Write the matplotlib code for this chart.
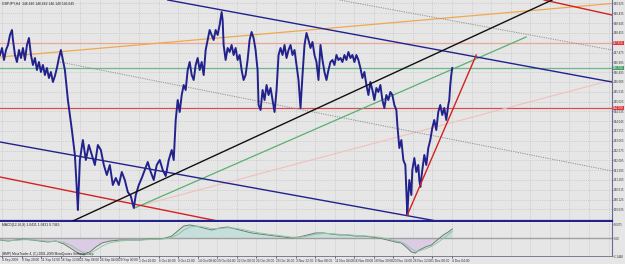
import numpy as np
import matplotlib
matplotlib.use("Agg")
import matplotlib.pyplot as plt
import matplotlib.transforms as mtransforms
import logging
logging.getLogger("matplotlib.font_manager").setLevel(logging.ERROR)

# ---------------- data ----------------
bar_pos = [0, 2, 4, 6, 8, 10, 12, 13, 15, 17, 19, 21, 23, 25, 27, 29, 31, 33, 35, 37, 39, 41, 43, 45, 47, 49, 51, 53, 55, 57, 59, 61, 63, 65,
           68, 70, 72, 75, 77, 78, 79, 80, 83, 86, 89, 92, 95, 98, 101, 104, 107, 110, 113, 116, 119, 122, 125, 128, 131, 134, 136, 139,
           142, 145, 148, 151, 154, 157, 160, 163, 166, 169, 172, 174, 176, 178, 180, 182, 184, 186, 188, 190, 192, 194, 196, 198, 200,
           202, 204, 206, 208, 210, 212, 214, 216, 218, 220, 222, 223, 224, 226, 228, 230, 232, 234, 236, 238, 240, 242, 244, 246, 248,
           250, 252, 254, 256, 258, 259, 261, 263, 265, 267, 269, 271, 273, 275, 277, 279, 281, 283, 285, 287, 289, 291, 293, 295, 297,
           299, 301, 303, 305, 307, 309, 311, 313, 315, 317, 319, 321, 323, 325, 327, 329, 331, 333, 335, 337, 339, 341, 343, 345, 347,
           349, 351, 353, 355, 357, 359, 361, 363, 365, 367, 369, 371, 373, 375, 377, 379, 381, 383, 385, 387, 389, 391, 393, 395, 397,
           398, 400, 402, 404, 406, 407, 408, 409, 410, 412, 413, 415, 417, 419, 420, 421, 423, 425, 427, 429, 431, 433, 435, 437, 439,
           441, 443, 445, 447, 449, 450, 451, 452, 453]
price = [147.35, 147.70, 147.10, 147.60, 147.85, 148.35, 148.60, 148.10, 147.35, 147.00, 147.60, 147.20, 147.70, 147.10, 147.85,
         148.20, 147.35, 146.85, 147.20, 146.60, 147.00, 146.50, 146.85, 146.35, 146.70, 146.20, 146.50, 146.00, 146.30, 146.70,
         147.20, 147.60, 147.10, 146.60,
         145.10, 144.35, 143.60, 142.35, 140.60, 139.60, 140.85, 142.10, 143.10, 142.10, 142.85, 142.35, 141.85, 142.85, 142.60,
         141.85, 141.35, 141.85, 140.85, 141.20, 140.85, 141.50, 141.10, 140.50, 140.30, 139.70, 140.35, 140.85,
         141.20, 141.60, 142.00, 141.50, 141.10, 141.85, 142.10, 141.60, 141.30, 142.10, 142.60, 142.10, 144.10, 145.10, 144.50,
         145.35, 145.85, 145.60, 146.60, 147.00, 146.35, 146.10, 146.85, 147.20, 146.60,
         147.00, 146.35, 147.60, 148.10, 148.60, 148.35, 148.10, 148.60, 148.35, 148.85, 149.50, 149.10, 147.85, 147.10, 147.70,
         147.50, 147.85, 147.35, 147.70, 147.10, 147.35, 146.60, 146.10, 146.35, 147.10,
         148.10, 148.50, 148.20, 147.60, 146.60, 144.85, 144.60, 145.60, 145.10, 145.85, 145.35, 145.70, 145.10, 144.50, 145.60,
         147.35, 147.70, 147.35, 147.85, 147.20, 147.60, 147.85, 147.35, 147.60, 146.85,
         146.10, 144.70, 146.35, 147.85, 148.45, 148.10, 147.70, 148.00, 147.35, 147.00, 146.10, 147.85, 147.10, 146.50, 146.10,
         146.60, 147.00, 147.10, 146.85, 147.35, 147.10, 147.20, 147.00, 147.35, 147.10,
         147.50, 147.20, 147.35, 147.00, 147.35, 147.10, 146.70, 146.20, 146.50, 145.85, 145.35, 146.00, 145.60, 145.10, 145.70,
         145.50, 145.85, 145.10, 144.70, 145.35, 145.10, 145.50, 145.35, 144.85, 144.60,
         143.85, 142.70, 143.10, 142.10, 141.85, 140.60, 139.35, 140.35, 141.10, 140.35, 141.60, 142.20, 141.50, 141.85, 141.10,
         140.75, 141.60, 142.35, 141.85, 142.70, 143.10, 143.70, 144.10, 143.60, 144.50,
         144.85, 144.35, 144.70, 144.10, 144.85, 145.10, 145.85, 146.35, 146.70]

# trend lines: (x0, p0, x1, p1)
line_upper_navy = (168, 150.10, 613, 146.00)
line_lower_navy = (0, 143.00, 435, 139.07)
line_red_low = (0, 141.25, 218, 139.05)
line_red_high = (545, 150.10, 613, 149.35)
line_red_steep = (408, 139.35, 477, 147.35)
line_green_diag = (135, 139.70, 527, 148.25)
line_black = (73, 139.05, 553, 150.10)
line_orange = (0, 147.25, 613, 149.925)
line_dot_top = (340, 150.10, 613, 147.60)
line_dot_mid = (60, 147.00, 613, 141.55)
line_pink = (135, 139.75, 613, 146.10)

hline_salmon = 147.95
hline_green = 146.70
hline_red = 144.70

price_ticks = [149.925, 149.435, 148.945, 148.455, 147.965, 147.475, 146.985, 146.495, 146.005, 145.515, 145.025,
               144.535, 144.045, 143.555, 143.065, 142.575, 142.085, 141.595, 141.105, 140.615, 140.125, 139.635]

time_pos = [2 + 19.6 * i for i in range(24)]
time_labels = ["4 Sep 2009", "8 Sep 20:00", "11 Sep 16:00", "16 Sep 12:00", "21 Sep 08:00", "24 Sep 04:00",
               "29 Sep 00:00", "1 Oct 20:00", "6 Oct 16:00", "9 Oct 12:00", "14 Oct 08:00", "19 Oct 04:00",
               "22 Oct 00:00", "26 Oct 20:00", "29 Oct 16:00", "3 Nov 12:00", "6 Nov 08:00", "11 Nov 04:00",
               "16 Nov 00:00", "18 Nov 20:00", "23 Nov 16:00", "26 Nov 12:00", "1 Dec 08:00", "4 Dec 04:00"]

macd_pos = [0, 8, 16, 24, 32, 40, 48, 56, 64, 72, 78, 84, 90, 96, 102, 110, 120, 130, 140, 150, 160, 166, 172, 178, 184,
            190, 196, 204, 212, 220, 228, 236, 244, 252, 260, 268, 276, 284, 292, 300, 308, 316, 324, 332, 340, 348, 356,
            364, 372, 380, 388, 396, 402, 408, 412, 416, 420, 426, 432, 438, 444, 449, 453]
macd_main = [-0.23, -0.35, -0.23, -0.12, -0.23, -0.35, -0.46, -0.35, -0.69, -1.27, -1.73, -1.96, -1.61, -1.04, -0.58,
             -0.35, -0.23, -0.23, -0.23, -0.12, -0.12, 0.00, 0.23, 0.81, 1.38, 1.50, 1.38, 1.15, 0.92, 1.15, 1.27, 1.04,
             0.81, 0.58, 0.46, 0.35, 0.23, 0.12, 0.00, 0.12, 0.35, 0.58, 0.58, 0.46, 0.35, 0.35, 0.23, 0.23, 0.12, 0.00,
             -0.23, -0.46, -0.58, -1.15, -1.61, -1.73, -1.38, -1.04, -0.81, -0.23, 0.35, 0.69, 1.04]
macd_signal = [-0.20, -0.28, -0.28, -0.20, -0.20, -0.28, -0.38, -0.38, -0.50, -0.90, -1.35, -1.70, -1.75, -1.40, -0.95,
               -0.55, -0.35, -0.25, -0.23, -0.18, -0.14, -0.08, 0.05, 0.40, 0.90, 1.25, 1.38, 1.28, 1.08, 1.08, 1.18, 1.12,
               0.95, 0.75, 0.58, 0.45, 0.33, 0.22, 0.10, 0.08, 0.22, 0.42, 0.52, 0.50, 0.42, 0.38, 0.30, 0.26, 0.18, 0.08,
               -0.10, -0.32, -0.48, -0.85, -1.25, -1.52, -1.50, -1.25, -0.98, -0.55, -0.05, 0.40, 0.75]
macd_ticks = [1.6075, 0.0, -2.07]
macd_tick_labels = ["1.6075", "0.00", "-2.1448"]

# ---------------- figure ----------------
FONT = ["Liberation Sans Narrow", "Liberation Sans", "DejaVu Sans"]
plt.rcParams["font.family"] = FONT
BG = "#e6e6e6"
GRID = "#c4c4c4"
NAVY = "#22228c"
TXT = "#303030"
W, H = 625, 264
RIGHT = 612
fig = plt.figure(figsize=(W / 100, H / 100), dpi=100, facecolor=BG)

def frac(x0, y0, x1, y1):
    return [x0 / W, 1 - y1 / H, (x1 - x0) / W, (y1 - y0) / H]

ax = fig.add_axes(frac(0, 0, RIGHT, 221))
ax.set_facecolor(BG)
ax.set_xlim(0, 613)
ax.set_ylim(139.05, 150.10)

grid_x = time_pos + [time_pos[-1] + 19.6 * k for k in range(1, 9)]
for t in price_ticks:
    ax.axhline(t, color=GRID, lw=0.5, ls=(0, (1.5, 1.5)), zorder=0)
for t in grid_x:
    ax.axvline(t, color=GRID, lw=0.5, ls=(0, (1.5, 1.5)), zorder=0)

def seg(l, color, lw=0.9, ls="-", z=2):
    ax.plot([l[0], l[2]], [l[1], l[3]], color=color, lw=lw, ls=ls, zorder=z)

ax.axhline(hline_salmon, color="#e8a898", lw=0.9, zorder=1)
ax.axhline(hline_green, color="#6cb88c", lw=0.9, zorder=1)
ax.axhline(hline_red, color="#d45050", lw=0.9, zorder=1)
seg(line_orange, "#f0a850")
seg(line_pink, "#f0c0bc", lw=0.8)
seg(line_dot_top, "#909090", lw=0.7, ls=(0, (1.2, 1.2)))
seg(line_dot_mid, "#909090", lw=0.7, ls=(0, (1.2, 1.2)))
seg(line_green_diag, "#58b070")
seg(line_upper_navy, NAVY, lw=1.0)
seg(line_lower_navy, NAVY, lw=1.0)
seg(line_red_low, "#d42020", lw=1.0)
seg(line_red_high, "#d42020", lw=1.0)

ax.plot(bar_pos, price, color=NAVY, lw=1.4, zorder=3)
seg(line_black, "#101010", lw=1.0, z=4)
seg(line_red_steep, "#d42020", lw=1.0, z=4)

for s in ["top", "left"]:
    ax.spines[s].set_visible(False)
ax.spines["right"].set_color("#6a6a90")
ax.spines["right"].set_linewidth(0.8)
ax.spines["bottom"].set_color(NAVY)
ax.spines["bottom"].set_linewidth(1.6)
ax.yaxis.tick_right()
ax.set_yticks(price_ticks)
ax.set_yticklabels([f"{t:.3f}" for t in price_ticks], fontsize=2.1, color=TXT)
ax.tick_params(axis="y", length=0.8, width=0.4, pad=0.3, colors=TXT)
ax.set_xticks([])

tr = mtransforms.blended_transform_factory(ax.transAxes, ax.transData)
for p, c in [(hline_salmon, "#e03838"), (hline_green, "#40a060"), (hline_red, "#e03838")]:
    ax.text(1.002, p, f"{p:.3f}", transform=tr, fontsize=2.1, color="white", va="center", ha="left",
            bbox=dict(facecolor=c, edgecolor="none", pad=0.2), clip_on=False, zorder=6)

ax.text(2, 149.93, "GBPJPY,H4  146.646 146.662 146.140 146.645", fontsize=2.4, color="#202020", va="center")

# ---------------- MACD ----------------
ax2 = fig.add_axes(frac(0, 222, RIGHT, 256))
ax2.set_facecolor(BG)
ax2.set_xlim(0, 613)
ax2.set_ylim(-2.07, 1.84)
for t in grid_x:
    ax2.axvline(t, color=GRID, lw=0.5, ls=(0, (1.5, 1.5)), zorder=0)
m = np.array(macd_main)
xp = np.array(macd_pos)
ax2.fill_between(xp, 0, m, where=m <= 0, interpolate=True, color="#dccbe4", lw=0, zorder=1)
ax2.fill_between(xp, 0, m, where=m >= 0, interpolate=True, color="#c6dedc", lw=0, zorder=1)
ax2.axhline(0, color="#a0a0a0", lw=1.0, zorder=2)
ax2.plot(macd_pos, macd_main, color="#6c7c70", lw=0.7, zorder=3)
ax2.plot(macd_pos, macd_signal, color="#8cc8a4", lw=0.7, zorder=3)
for s in ["top", "left"]:
    ax2.spines[s].set_visible(False)
ax2.spines["right"].set_color("#6a6a90")
ax2.spines["right"].set_linewidth(0.8)
ax2.spines["bottom"].set_color("#6a6a90")
ax2.spines["bottom"].set_linewidth(0.6)
ax2.yaxis.tick_right()
ax2.set_yticks(macd_ticks)
ax2.set_yticklabels(macd_tick_labels, fontsize=2.1, color=TXT)
ax2.tick_params(axis="y", length=0.8, width=0.4, pad=0.3)
ax2.set_xticks(time_pos)
ax2.set_xticklabels(time_labels, fontsize=2.3, color=TXT, ha="left")
ax2.tick_params(axis="x", length=1.2, width=0.4, pad=0.6)
ax2.text(2, 1.5, "MACD(12,26,9) 1.0431 1.0431 0.7465", fontsize=2.4, color="#202020", va="center")
ax2.text(2, -1.8, "(BMP) MetaTrader 4, (C) 2001-2009 MetaQuotes Software Corp.", fontsize=2.3, color="#202020",
         va="center")

fig.savefig("out.png", dpi=100, facecolor=BG)
